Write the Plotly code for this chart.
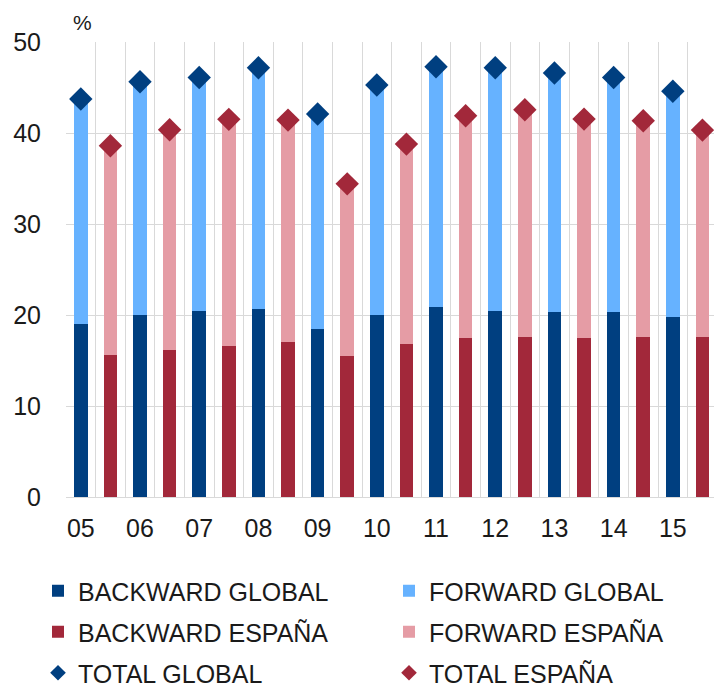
import plotly.graph_objects as go

years = ["05", "06", "07", "08", "09", "10", "11", "12", "13", "14", "15"]
backward_global = [19.05, 20.0, 20.44, 20.66, 18.46, 20.0, 20.88, 20.44, 20.3, 20.3, 19.78]
total_global = [43.73, 45.63, 46.1, 47.17, 42.08, 45.27, 47.28, 47.17, 46.59, 46.1, 44.58]
backward_espana = [15.6, 16.15, 16.56, 17.03, 15.49, 16.81, 17.51, 17.58, 17.47, 17.58, 17.58]
total_espana = [38.6, 40.35, 41.5, 41.42, 34.41, 38.78, 41.9, 42.55, 41.53, 41.34, 40.32]

forward_global = [round(t - b, 2) for t, b in zip(total_global, backward_global)]
forward_espana = [round(t - b, 2) for t, b in zip(total_espana, backward_espana)]

x_global = [2 * i for i in range(len(years))]
x_espana = [2 * i + 1 for i in range(len(years))]

C_DB = "#003F80"
C_LB = "#66B2FF"
C_DR = "#A2283A"
C_LR = "#E59CA5"
FONT = "Liberation Sans, Arial, sans-serif"
TXT = "#1a1a1a"
GRID = "#D9D9D9"
BW = 0.46

fig = go.Figure()
fig.add_trace(go.Bar(x=x_global, y=backward_global, width=BW, marker_color=C_DB,
                     marker_line_width=0, name="BACKWARD GLOBAL", legend="legend", legendgroup="a"))
fig.add_trace(go.Bar(x=x_global, y=forward_global, width=BW, marker_color=C_LB,
                     marker_line_width=0, name="FORWARD GLOBAL", legend="legend2", legendgroup="b"))
fig.add_trace(go.Bar(x=x_espana, y=backward_espana, width=BW, marker_color=C_DR,
                     marker_line_width=0, name="BACKWARD ESPAÑA", legend="legend", legendgroup="c"))
fig.add_trace(go.Bar(x=x_espana, y=forward_espana, width=BW, marker_color=C_LR,
                     marker_line_width=0, name="FORWARD ESPAÑA", legend="legend2", legendgroup="d"))
fig.add_trace(go.Scatter(x=x_global, y=total_global, mode="markers", cliponaxis=False,
                         marker=dict(symbol="diamond", size=18, color=C_DB),
                         name="TOTAL GLOBAL", legend="legend", legendgroup="e"))
fig.add_trace(go.Scatter(x=x_espana, y=total_espana, mode="markers", cliponaxis=False,
                         marker=dict(symbol="diamond", size=18, color=C_DR),
                         name="TOTAL ESPAÑA", legend="legend2", legendgroup="f"))

leg_common = dict(
    xref="container", yref="container", yanchor="top", xanchor="left",
    orientation="v", traceorder="grouped", tracegroupgap=5.5, itemsizing="constant",
    font=dict(family=FONT, size=25, color=TXT), bgcolor="rgba(0,0,0,0)",
    borderwidth=0, itemwidth=30,
)

fig.update_layout(
    width=714, height=689,
    margin=dict(l=66, r=0, t=42, b=192, autoexpand=False),
    paper_bgcolor="white", plot_bgcolor="white",
    barmode="relative", bargap=0,
    font=dict(family=FONT, size=25, color=TXT),
    showlegend=True,
    legend=dict(x=38 / 714, y=1 - 568 / 689, **leg_common),
    legend2=dict(x=389 / 714, y=1 - 568 / 689, **leg_common),
    xaxis=dict(
        range=[-0.5, 21.39], tickmode="array", tickvals=x_global, ticktext=years,
        showgrid=False, zeroline=False, showline=False, ticks="",
        ticklabelstandoff=14, automargin=False,
        minor=dict(tick0=-0.5, dtick=1, showgrid=True, gridcolor=GRID, gridwidth=1, ticks=""),
        tickfont=dict(family=FONT, size=25, color=TXT),
    ),
    yaxis=dict(
        range=[0, 50], tickvals=[0, 10, 20, 30, 40, 50], showgrid=True,
        gridcolor=GRID, gridwidth=1, zeroline=True, zerolinecolor=GRID, zerolinewidth=1,
        showline=False, ticks="", ticklabelstandoff=24, automargin=False,
        tickfont=dict(family=FONT, size=25, color=TXT),
    ),
    annotations=[dict(text="%", xref="paper", yref="paper", x=(82 - 66) / 648, y=1 + 19 / 455,
                      xanchor="center", yanchor="middle", showarrow=False,
                      font=dict(family=FONT, size=21, color=TXT))],
)

fig.write_html("out.html", config={"displayModeBar": False},
               post_script="document.body.style.margin='0';document.body.style.overflow='hidden';")
